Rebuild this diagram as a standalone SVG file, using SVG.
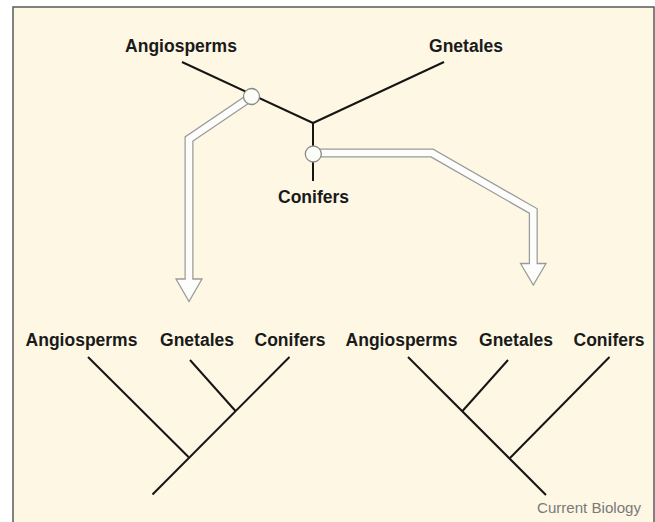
<svg xmlns="http://www.w3.org/2000/svg" width="655" height="522" viewBox="0 0 655 522">
<style>
.lbl{font-family:"Liberation Sans",Arial,sans-serif;font-weight:bold;font-size:17.5px;fill:#1a1a1a;text-anchor:middle}
.br{stroke:#151515;stroke-width:2;fill:none;stroke-linecap:butt}
.ao{stroke:#9a9a9a;stroke-width:9;fill:none;stroke-linejoin:miter}
.ai{stroke:#fdfdfb;stroke-width:6.5;fill:none;stroke-linejoin:miter}
.ah{fill:#fdfdfb;stroke:#9a9a9a;stroke-width:1.3;stroke-linejoin:miter}
.nd{fill:#fdfdf8;stroke:#8a8a8a;stroke-width:1.3}
.cr{font-family:"Liberation Sans",Arial,sans-serif;font-size:14px;fill:#7a7a7a}
</style>
<rect x="0" y="0" width="655" height="522" fill="#ffffff"/>
<rect x="13" y="7" width="641" height="530" fill="#fdf7e3" stroke="#5a5a5a" stroke-width="1.5"/>

<g id="connectors">
  <!-- unrooted tree -->
  <line class="br" x1="182" y1="62" x2="313" y2="123"/>
  <line class="br" x1="444" y1="62" x2="313" y2="123"/>
  <line class="br" x1="313" y1="122" x2="313" y2="181"/>
  <!-- left rooted tree -->
  <line class="br" x1="88" y1="357" x2="188.5" y2="457"/>
  <line class="br" x1="289.5" y1="357" x2="152.5" y2="494.5"/>
  <line class="br" x1="190" y1="360" x2="235.5" y2="411"/>
  <!-- right rooted tree -->
  <line class="br" x1="408" y1="357" x2="546" y2="495"/>
  <line class="br" x1="508" y1="360" x2="462.5" y2="411"/>
  <line class="br" x1="609.5" y1="357" x2="510" y2="458"/>
  <!-- hollow arrows -->
  <polygon class="ah" points="176,279 202,279 189,301.5"/>
  <path class="ao" d="M251,97 L189,139 L189,279"/>
  <path class="ai" d="M251,97 L189,139 L189,281"/>
  <polygon class="ah" points="520.5,263.5 546,263.5 533.3,285"/>
  <path class="ao" d="M313,153 L432,153 L533.3,211 L533.3,263.5"/>
  <path class="ai" d="M313,153 L432,153 L533.3,211 L533.3,265.5"/>
</g>

<g id="node-root-split">
  <circle class="nd" cx="251.5" cy="96.5" r="8"/>
</g>
<g id="node-conifer-split">
  <circle class="nd" cx="313.3" cy="154" r="8"/>
</g>

<g id="top-angiosperms"><text class="lbl" x="181" y="52">Angiosperms</text></g>
<g id="top-gnetales"><text class="lbl" x="466" y="52">Gnetales</text></g>
<g id="top-conifers"><text class="lbl" x="313.5" y="202.5">Conifers</text></g>

<g id="left-angiosperms"><text class="lbl" x="81.5" y="346">Angiosperms</text></g>
<g id="left-gnetales"><text class="lbl" x="197" y="346">Gnetales</text></g>
<g id="left-conifers"><text class="lbl" x="290" y="346">Conifers</text></g>

<g id="right-angiosperms"><text class="lbl" x="401.5" y="346">Angiosperms</text></g>
<g id="right-gnetales"><text class="lbl" x="516" y="346">Gnetales</text></g>
<g id="right-conifers"><text class="lbl" x="609" y="346">Conifers</text></g>

<text class="cr" x="537" y="513" textLength="104" lengthAdjust="spacingAndGlyphs">Current Biology</text>
</svg>
